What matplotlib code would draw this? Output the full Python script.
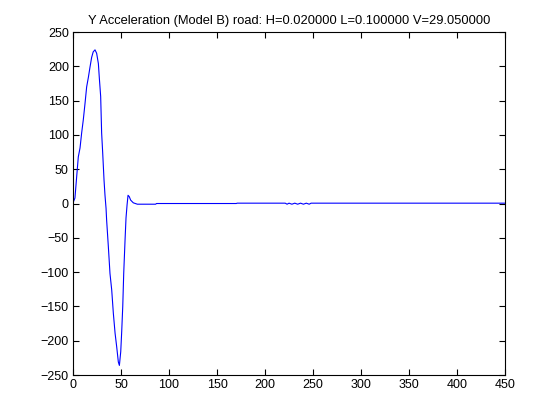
import matplotlib
matplotlib.use("Agg")
import matplotlib.pyplot as plt

# sample index and vertical acceleration
t = [0, 2, 3.8, 5.5, 7.3, 9, 10.7, 12.5, 14.2, 16, 17.7, 19.4, 21, 22.9, 24.6,
     26.4, 27.4, 28.8, 29.8, 30.9, 32.3, 33.3, 34.4, 35, 36.8, 38.5, 40.3, 42,
     43.8, 45.5, 47.2, 48.3, 49.7, 50.7, 51.8, 52.8, 54.2, 55.2, 56.3, 57.3,
     58.6, 60, 62.8, 67, 86, 87, 170, 171, 221, 223, 225, 228, 231, 234, 237,
     240, 243, 246, 248, 450]
accel = [1, 8, 39, 68, 81, 103, 122, 146, 170, 184, 199, 213, 221, 224, 219,
         204, 183, 156, 103, 74, 34, 12, -7, -24, -63, -102, -126, -160,
         -189, -209, -231, -236, -216, -187, -150, -102, -53, -21, -2, 12,
         10, 5, 1, -1, -1, 0, 0, 0.5, 0.5, -1, 0.5, -1, 0.5, -1, 0.5,
         -1, 0.5, -1, 0.5, 0.5]

title = "Y Acceleration (Model B) road: H=0.020000 L=0.100000 V=29.050000"

plt.rcParams["font.family"] = ["Liberation Sans", "DejaVu Sans"]
plt.rcParams["font.size"] = 8

fig = plt.figure(figsize=(5.6, 4.2), dpi=100)
ax = fig.add_axes([0.1304, 0.1071, 0.7714, 0.8167])
ax.plot(t, accel, color="blue", linewidth=0.8)
ax.set_xlim(0, 450)
ax.set_ylim(-250, 250)
ax.set_xticks(range(0, 451, 50))
ax.set_yticks(range(-250, 251, 50))
ax.tick_params(direction="in", top=True, right=True, length=4, width=0.8,
               labelsize=9, pad=3)
for s in ax.spines.values():
    s.set_linewidth(0.8)
ax.set_title(title, fontsize=9.3, pad=6)

fig.savefig("out.png", dpi=100)
